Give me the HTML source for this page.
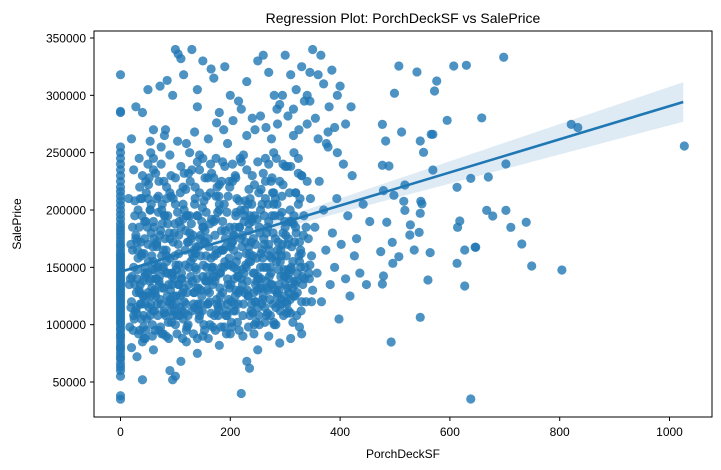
<!DOCTYPE html>
<html><head><meta charset="utf-8"><style>
body{margin:0;background:#fff;}
svg{display:block;font-family:"Liberation Sans","DejaVu Sans",sans-serif;}
</style></head><body>
<svg id="chart" width="721" height="470" viewBox="0 0 721 470" xmlns="http://www.w3.org/2000/svg">
<rect width="721" height="470" fill="#fff"/>
<text x="403" y="23" font-size="14" text-anchor="middle" fill="#000">Regression Plot: PorchDeckSF vs SalePrice</text>
<g id="ci"></g>
<g id="pts"></g>
<g id="reg"></g>
<rect x="94" y="31" width="618" height="386" fill="none" stroke="#000" stroke-width="1"/>
<g id="xaxis"></g>
<g id="yaxis"></g>
<text x="403" y="458" font-size="12" text-anchor="middle">PorchDeckSF</text>
<text x="21" y="224" font-size="12" text-anchor="middle" transform="rotate(-90 21 224)">SalePrice</text>
</svg>
<script>
// ---- data (PorchDeckSF, SalePrice in thousands) ----
const porch = [
0,0,0,0,0,0,0,0,0,0,0,0,0,0,0,0,0,0,0,0,0,0,0,0,0,0,0,0,0,0,0,0,0,0,0,0,0,0,0,0,0,0,0,0,0,0,0,0,0,0,0,0,0,0,0,0,0,0,0,0,0,0,0,0,0,0,0,0,0,0,0,0,0,0,0,0,0,
20,24,28,30,32,35,36,38,40,40,42,44,45,48,50,50,52,54,55,56,58,60,60,62,
22,26,30,34,38,42,46,50,54,58,62,66,70,74,78,80,84,88,90,94,98,100,
64,66,68,70,72,74,76,78,80,82,84,86,88,90,92,94,96,98,100,102,104,106,108,110,
112,114,116,118,120,122,124,126,128,130,132,134,136,138,140,142,144,146,148,150,152,154,156,158,
160,162,164,166,168,170,172,174,176,178,180,182,184,186,188,190,192,194,196,198,200,202,204,206,
208,210,212,214,216,218,220,222,224,226,228,230,232,234,236,238,240,242,244,246,248,250,252,254,
256,258,260,262,264,266,268,270,272,274,276,278,280,282,284,286,288,290,292,294,296,298,300,302,
304,306,308,310,312,314,316,318,320,322,324,326,328,330,332,334,336,338,340,342,344,346,348,350,
354,358,362,366,370,374,378,382,386,390,394,398,402,406,410,414,418,422,426,430,436,442,448,454,
25,35,45,55,65,75,85,95,105,115,125,135,145,155,165,175,185,195,205,215,225,235,245,255,
265,275,285,295,305,315,325,335,345,30,60,90,120,150,180,210,240,270,300,330,15,45,75,105,
135,165,195,225,255,285,315,18,38,58,78,98,118,138,158,178,198,218,238,258,278,298,318,338,
28,48,68,88,108,128,148,168,188,208,228,248,268,288,308,328,348,33,63,93,123,153,183,213,
243,273,303,333,43,73,103,133,163,193,223,253,283,313,343,53,83,113,143,173,203,233,263,293,
28,55,72,85,95,100,105,110,115,130,140,150,165,170,180,190,200,215,230,250,260,270,280,290,
300,310,320,330,340,345,350,360,365,370,380,385,395,400,410,420,40,60,120,135,160,205,240,265,
275,285,305,315,325,335,355,375,390,20,50,80,140,175,195,220,245,255,295,315,345,360,378,395,
20,30,45,60,75,90,100,110,120,140,160,180,200,220,235,250,270,290,310,330,95,150,230,40,
507,540,607,630,698,576,572,499,477,595,658,512,566,569,483,546,552,821,833,1027,477,489,569,702,
638,670,613,479,518,498,516,547,549,518,546,667,678,702,485,528,527,544,618,614,711,739,495,474,
507,496,535,564,627,646,647,731,613,749,804,479,477,560,627,546,493,638,
17,27,37,47,57,67,77,87,97,107,117,127,137,147,157,167,177,187,197,207,217,227,237,247,
257,267,277,287,297,307,317,327,22,32,42,52,62,72,82,92,102,112,122,132,142,152,162,172,
182,192,202,212,222,232,242,252,262,272,282,292,302,312,322,19,29,39,49,59,69,79,89,99,
109,119,129,139,149,159,169,179,189,199,209,219,229,239,249,259,269,279,289,299,309,319,329,24,
34,44,54,64,74,84,94,104,114,124,134,144,154,164,174,184,194,204,214,224,234,244,254,264,
274,284,294,304,314,324,16,26,36,46,56,66,76,86,96,106,116,126,136,146,156,166,176,186,
196,206,216,226,236,246,256,266,276,286,296,306,316,326,31,41,51,61,71,81,91,101,111,121,
131,141,151,161,171,181,191,201,211,221,231,241,251,261,271,281,291,301,311,321,331,23,43,63,
73,83,93,103,113,123,133,143,153,163,173,183,193,203,213,223,233,243,253,263,273,283,293,303,
50,70,90,110,130,150,170,190,210,230,250,270,290,310,330,60,100,140,180,220,260,300,340,35,
21,31,41,51,61,71,81,91,101,111,121,131,141,151,161,171,181,191,201,211,221,231,241,251,
261,271,281,291,301,311,321,26,46,66,86,106,126,146,166,186,206,226,246,266,286,306,326,36,
56,76,96,116,136,156,176,196,216,236,256,276,296,316,39,69,99,129,159,189,219,249,279,309,
29,59,89,119,149,179,209,239,269,299,329,49,79,109,139,169,199,229,259,289,319,64,124,184,
244,304,94,154,214,274,34,84,134,184,234,284,57,107,157,207,257,307,44,144,244,114,174,234,
24,54,84,114,144,174,204,234,264,294,324,39,79,119,159,199,239,279,319,69,139,209,279,19
];
const price = [
35,38,55,60,63,66,70,72,75,78,80,82,85,88,90,92,95,97,100,102,104,106,108,110,112,114,116,118,120,122,124,126,128,130,132,134,136,138,140,142,144,146,148,150,152,154,156,158,160,162,165,168,170,173,176,179,182,185,188,192,196,200,204,208,212,216,220,225,230,235,240,245,250,255,285,286,318,
120,150,175,110,200,95,135,160,230,85,125,190,145,105,170,210,115,260,140,180,90,155,245,130,
165,135,140,185,118,98,225,128,200,148,112,172,138,255,92,195,160,120,215,145,180,100,
125,210,150,95,178,240,132,165,110,270,145,188,88,158,230,118,172,140,205,125,260,152,108,185,
140,220,120,165,95,195,135,250,155,112,178,128,210,148,88,168,235,118,190,142,100,228,160,130,
175,120,215,150,98,190,138,245,162,115,205,145,182,128,270,155,108,198,135,225,168,120,240,150,
185,130,210,160,95,245,140,178,118,200,152,265,125,188,108,172,230,145,195,135,158,115,215,180,
140,205,125,170,245,150,110,190,160,225,135,180,100,210,155,275,130,195,165,118,240,148,185,120,
170,140,215,110,190,155,250,125,180,145,205,98,165,230,135,195,150,120,275,175,140,210,160,130,
185,145,225,120,200,165,255,135,180,150,210,105,170,240,140,195,125,230,160,175,145,205,135,190,
105,128,150,118,140,160,125,145,170,132,150,115,175,138,158,122,165,140,178,128,145,162,120,150,
138,158,128,170,148,125,160,140,152,172,190,175,195,185,200,195,190,170,135,120,210,118,200,135,
205,110,118,190,200,205,188,140,105,100,150,112,152,168,142,108,158,130,112,165,118,142,135,185,
178,125,108,135,115,142,125,135,150,118,172,138,185,148,190,150,120,92,128,112,100,172,118,142,
128,150,118,178,162,182,92,118,188,112,108,185,115,132,145,138,165,128,105,192,172,125,115,160,
290,250,308,313,300,340,336,332,318,340,305,330,323,315,285,325,300,295,312,330,335,320,300,292,
335,318,305,325,300,320,340,318,335,310,290,322,300,308,275,290,285,270,258,268,262,278,280,272,
262,288,282,265,270,295,280,258,272,262,305,265,290,276,258,288,270,282,300,288,295,262,268,250,
80,72,88,78,92,60,55,68,85,75,88,82,92,40,62,78,90,84,88,92,52,90,68,52,
325.6,320.4,325.6,326.2,333.2,312.5,303.8,301.8,274.7,278.2,280.3,268,266,266,260.2,260.2,250.3,274.7,272,255.8,239,238.4,234.9,240.1,
227.6,228.8,219.8,216.9,221.8,212.8,207.6,207.6,205.3,199.7,197.1,199.7,194.8,199.7,189.3,187,178.2,180.5,190.4,184.9,184.9,189.3,171.8,163.7,
159.3,153.5,165.1,162.8,165.1,167.5,167.5,170.4,153.5,151.2,147.7,142.5,135.5,139,133.7,106.4,84.9,35.2,
98,112,172,215,132,118,148,102,125,190,110,225,162,130,212,148,198,165,122,140,185,208,155,102,
118,132,215,172,108,128,172,210,185,158,108,228,148,122,108,212,148,112,172,158,132,208,128,178,
125,168,102,148,135,205,175,108,195,122,175,142,160,168,128,115,128,195,185,168,198,112,180,160,
215,182,175,132,202,118,142,212,98,185,112,175,150,192,130,158,205,102,135,190,122,215,162,235,
245,175,108,232,118,220,135,198,105,232,165,248,182,240,142,225,108,225,118,248,168,222,132,225,
145,245,212,238,102,245,135,208,118,95,205,168,188,145,108,162,232,195,150,178,138,232,118,242,
152,112,208,128,195,120,162,108,195,125,222,112,138,155,148,138,222,175,142,195,122,118,140,98,
138,195,152,168,108,132,182,152,198,168,138,110,142,175,142,195,112,178,148,108,142,95,88,95,
98,90,102,108,88,108,92,112,95,100,95,98,92,98,102,90,98,92,100,102,108,100,122,110,
240,225,248,238,235,245,228,238,228,235,242,240,225,238,230,235,228,242,222,242,232,238,225,220,
142,165,125,155,185,135,175,130,152,145,128,162,118,185,138,160,145,175,135,155,148,130,160,140,
150,165,130,155,142,150,138,195,190,170,195,178,180,160,192,190,165,195,170,180,165,175,172,210,
125,205,210,200,220,198,220,212,185,210,218,228,180,195,162,152,188,188,118,205,200,192,205,200,
115,112,118,118,112,112,125,118,130,125,112,145,132,125,140,150,132,162,122,118,185,140,172,150,
145,132,142,172,142,135,130,155,128,165,155,160,160,135,150,178,132,145,142,108,100,205,165,182,
108,200,210,192,215,212,172,218,210,198,232,210,225,218,228,220,205,215,215,212,195,230,250,170
];
const yTicks = [50000,100000,150000,200000,250000,300000,350000];
const xTicks = [0,200,400,600,800,1000];
const regIntercept = 146.1;   // thousands
const regSlope = 0.1445;      // thousands per unit
const ciSpread = 0.0178;      // half-width growth per unit from mean
const regRange = [0,1025];

// ---- scales ----
const NS='http://www.w3.org/2000/svg';
function sx(v){return 120.5+0.549*v;}
function sy(v){return 38+(350000-v)*0.0011467;}

const gx=document.getElementById('xaxis');
xTicks.forEach(t=>{
  const l=document.createElementNS(NS,'line');
  l.setAttribute('x1',sx(t));l.setAttribute('x2',sx(t));l.setAttribute('y1',417);l.setAttribute('y2',421);l.setAttribute('stroke','#000');
  
  
  gx.appendChild(l);
  const tx=document.createElementNS(NS,'text');
  tx.setAttribute('x',sx(t));tx.setAttribute('y',436);tx.setAttribute('font-size','12');tx.setAttribute('text-anchor','middle');
  tx.textContent=t;
  
  
  gx.appendChild(tx);
});
const gy=document.getElementById('yaxis');
yTicks.forEach(t=>{
  const l=document.createElementNS(NS,'line');
  l.setAttribute('x1',90);l.setAttribute('x2',94);l.setAttribute('y1',sy(t));l.setAttribute('y2',sy(t));l.setAttribute('stroke','#000');
  
  
  gy.appendChild(l);
  const tx=document.createElementNS(NS,'text');
  tx.setAttribute('x',86);tx.setAttribute('y',sy(t)+4.5);tx.setAttribute('font-size','12');tx.setAttribute('text-anchor','end');
  tx.textContent=t;
  
  
  gy.appendChild(tx);
});

const gp=document.getElementById('pts');
const n=Math.min(porch.length,price.length);
for(let i=0;i<n;i++){
  const c=document.createElementNS(NS,'circle');
  c.setAttribute('cx',sx(porch[i]));c.setAttribute('cy',sy(price[i]*1000));c.setAttribute('r',4.6);
  c.setAttribute('fill','#1f77b4');c.setAttribute('fill-opacity','0.8');
  
  
  gp.appendChild(c);
}

// regression + CI
const xm=60;
let up=[],dn=[];
for(let k=0;k<=50;k++){
  const x=regRange[0]+(regRange[1]-regRange[0])*k/50;
  const yv=regIntercept+regSlope*x;
  const hw=Math.sqrt(1.5*1.5+Math.pow(ciSpread*(x-xm),2));
  up.push(sx(x)+','+sy((yv+hw)*1000));
  dn.unshift(sx(x)+','+sy((yv-hw)*1000));
}
const band=document.createElementNS(NS,'polygon');
band.setAttribute('points',up.concat(dn).join(' '));
band.setAttribute('fill','#1f77b4');band.setAttribute('fill-opacity','0.15');


document.getElementById('ci').appendChild(band);
const rl=document.createElementNS(NS,'line');
rl.setAttribute('x1',sx(regRange[0]));rl.setAttribute('y1',sy((regIntercept+regSlope*regRange[0])*1000));
rl.setAttribute('x2',sx(regRange[1]));rl.setAttribute('y2',sy((regIntercept+regSlope*regRange[1])*1000));
rl.setAttribute('stroke','#1f77b4');rl.setAttribute('stroke-width','2.6');


document.getElementById('reg').appendChild(rl);
</script>
</body></html>
